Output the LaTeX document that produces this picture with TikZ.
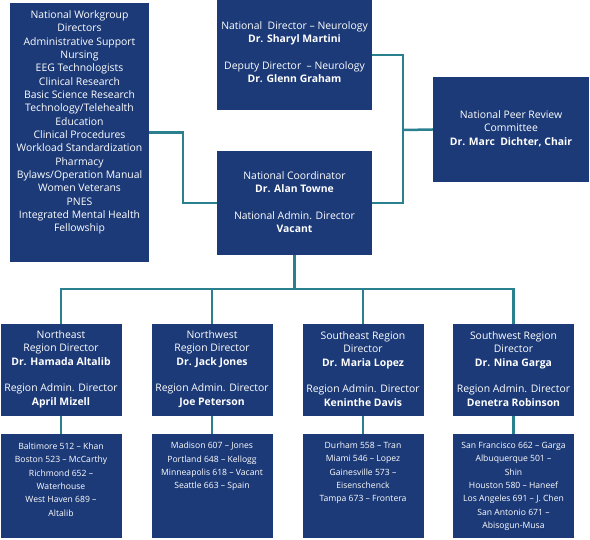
\documentclass[tikz,border=0pt]{standalone}
\usepackage{fontspec}
\setmainfont{Open Sans}
\definecolor{navy}{RGB}{28,58,120}
\definecolor{linkteal}{RGB}{43,128,144}
\begin{document}
\begin{tikzpicture}[x=1pt,y=-1pt,
  box/.style={fill=navy,draw=none,inner sep=0pt,minimum width=#1},
  box/.default=121,
  txt/.style={text=white,inner sep=0pt,align=center,font=\fontsize{10.4}{13.33}\selectfont},
  stxt/.style={text=white,inner sep=0pt,align=center,font=\fontsize{8.6}{13.33}\selectfont},
  conn/.style={draw=linkteal,line width=2.5pt}]
\useasboundingbox (0,0) rectangle (590,540);
% boxes
\node[box=139,minimum height=259] (wg) at (79.5,132.5) {};
\node[box=155,minimum height=110] (nd) at (294.5,55) {};
\node[box=155,minimum height=104] (nc) at (294.5,203) {};
\node[box=156,minimum height=105] (pr) at (511,129.5) {};
\node[box,minimum height=92] (ne) at (61,370) {};
\node[box,minimum height=92] (nw) at (212,370) {};
\node[box,minimum height=92] (se) at (363,370) {};
\node[box,minimum height=92] (sw) at (513.5,370) {};
\node[box,minimum height=104] (nes) at (61,486) {};
\node[box,minimum height=104] (nws) at (212,486) {};
\node[box,minimum height=104] (ses) at (363,486) {};
\node[box,minimum height=104] (sws) at (513.5,486) {};
% texts
\node[txt] (wgt) at (79.5,122.5) {National Workgroup\\Directors\\Administrative Support\\Nursing\\EEG Technologists\\Clinical Research\\Basic Science Research\\Technology/Telehealth\\Education\\Clinical Procedures\\Workload Standardization\\Pharmacy\\Bylaws/Operation Manual\\Women Veterans\\PNES\\Integrated Mental Health\\Fellowship};
\node[txt] (ndt) at (294.5,52) {National\ \ Director -- Neurology\\\textbf{Dr. Sharyl Martini}\\[13.33pt]Deputy Director\ \ -- Neurology\\\textbf{Dr. Glenn Graham}};
\node[txt] (nct) at (294.5,202) {National Coordinator\\\textbf{Dr. Alan Towne}\\[13.33pt]National Admin. Director\\\textbf{Vacant}};
\node[txt] (prt) at (511,128.5) {National Peer Review\\Committee\\\textbf{Dr. Marc\ \ Dichter, Chair}};
\node[txt] (net) at (61,369) {Northeast\\Region Director\\\textbf{Dr. Hamada Altalib}\\[13.33pt]Region Admin. Director\\\textbf{April Mizell}};
\node[txt] (nwt) at (212,369) {Northwest\\Region Director\\\textbf{Dr. Jack Jones}\\[13.33pt]Region Admin. Director\\\textbf{Joe Peterson}};
\node[txt] (set) at (363,369) {Southeast Region\\Director\\\textbf{Dr. Maria Lopez}\\[13.33pt]Region Admin. Director\\\textbf{Keninthe Davis}};
\node[txt] (swt) at (513.5,369) {Southwest Region\\Director\\\textbf{Dr. Nina Garga}\\[13.33pt]Region Admin. Director\\\textbf{Denetra Robinson}};
\node[stxt] (nest) at (61,479.5) {Baltimore 512 -- Khan\\Boston 523 -- McCarthy\\Richmond 652 --\\Waterhouse\\West Haven 689 --\\Altalib};
\node[stxt] (nwst) at (212,466.5) {Madison 607 -- Jones\\Portland 648 -- Kellogg\\Minneapolis 618 -- Vacant\\Seattle 663 -- Spain};
\node[stxt] (sest) at (363,473) {Durham 558 -- Tran\\Miami 546 -- Lopez\\Gainesville 573 --\\Eisenschenck\\Tampa 673 -- Frontera};
\node[stxt] (swst) at (513.5,486.5) {San Francisco 662 -- Garga\\Albuquerque 501 --\\Shin\\Houston 580 -- Haneef\\Los Angeles 691 -- J. Chen\\San Antonio 671 --\\Abisogun-Musa};
% connectors
\coordinate (elbowL) at (183,167);
\coordinate (elbowR) at (403,130);
\coordinate (bus) at (294.5,289);
\draw[conn] (wg.east) -| (elbowL) |- (nc.west);
\draw[conn] (nd.east) -| (elbowR) |- (nc.east);
\draw[conn] (elbowR) -- (pr.west);
\draw[conn] (nc.south) -- (bus);
\draw[conn] (ne.north) |- (bus) -| (sw.north);
\draw[conn] (nw.north) -- (nw.north |- bus);
\draw[conn] (se.north) -- (se.north |- bus);
\draw[conn] (ne.south) -- (nes.north);
\draw[conn] (nw.south) -- (nws.north);
\draw[conn] (se.south) -- (ses.north);
\draw[conn] (sw.south) -- (sws.north);
\end{tikzpicture}
\end{document}
